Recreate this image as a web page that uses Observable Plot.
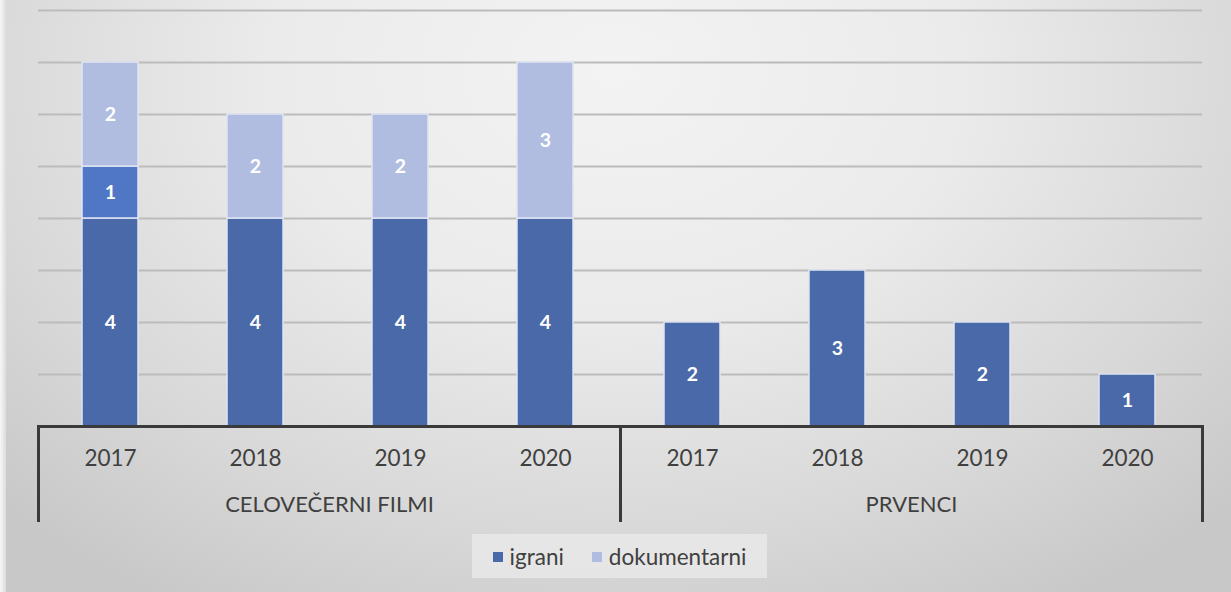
<!DOCTYPE html>
<html>
<head>
<meta charset="utf-8">
<script src="https://cdn.jsdelivr.net/npm/d3@7"></script>
<script src="https://cdn.jsdelivr.net/npm/@observablehq/plot@0.6"></script>
<style>
  html, body { margin: 0; padding: 0; }
  #wrap {
    position: relative; width: 1231px; height: 592px; overflow: hidden;
    background: radial-gradient(ellipse 70% 105% at 50% 12%, #f3f3f3 0%, #ebebeb 40%, #d8d8d8 75%, #c8c8c8 100%);
    font-family: Lato, "Open Sans", sans-serif;
  }
  #edgeL { position: absolute; left: 0; top: 0; width: 6px; height: 592px; background: linear-gradient(to right, #f7f7f7, #dcdcdc); }
  #chart { position: absolute; left: 0; top: 0; }
  #legend {
    position: absolute; left: 472px; top: 534px; width: 295px; height: 44px;
    background: rgba(235,235,235,0.75);
    display: flex; align-items: center; justify-content: center; gap: 28px;
    font-size: 22.5px; color: #404040;
  }
  #legend .item { display: flex; align-items: center; gap: 7px; }
  #legend .sw { width: 10px; height: 10px; display: inline-block; margin-top: 2px; }
</style>
</head>
<body>
<div id="wrap"><div id="edgeL"></div><div id="chart"></div><div id="legend"></div></div>
<script>
const groups = ["CELOVEČERNI FILMI", "PRVENCI"];
const years = ["2017", "2018", "2019", "2020"];
const series = ["igrani", "drugo", "dokumentarni"];
const igrani = [4, 4, 4, 4, 2, 3, 2, 1];
const drugo = [1, 0, 0, 0, 0, 0, 0, 0];
const dokumentarni = [2, 2, 2, 3, 0, 0, 0, 0];
const legendSeries = ["igrani", "dokumentarni"];
const seriesColors = ["#4a69a9", "#4f77c6", "#b0bde0"];
const yTicks = [1, 2, 3, 4, 5, 6, 7, 8];

const values = {igrani, drugo, dokumentarni};
const rows = [];
for (let i = 0; i < igrani.length; i++) {
  const group = groups[Math.floor(i / years.length)];
  const year = years[i % years.length];
  for (const s of series) {
    const v = values[s][i];
    if (v > 0) rows.push({group, year, series: s, value: v});
  }
}

const plot = Plot.plot({
  width: 1231,
  height: 530,
  marginLeft: 37,
  marginRight: 29,
  marginTop: 10,
  marginBottom: 104,
  style: {background: "transparent", color: "#404040", fontFamily: "Lato, 'Open Sans', sans-serif"},
  fx: {domain: groups, padding: 0, axis: null},
  x: {domain: years, paddingInner: 0.615, paddingOuter: 0.3075, axis: null},
  y: {domain: [0, 8], axis: null},
  color: {domain: series, range: seriesColors},
  marks: [
    Plot.gridY(yTicks, {stroke: "#bcbcbc", strokeOpacity: 1, strokeWidth: 2}),
    Plot.barY(rows, Plot.stackY({fx: "group", x: "year", y: "value", fill: "series", stroke: "#dfe5f3", strokeWidth: 1.5, dx: -2})),
    Plot.text(rows, Plot.stackY({fx: "group", x: "year", y: "value", z: "series", text: d => String(d.value), fill: "white", fontWeight: "bold", fontSize: 19.5, dx: -2})),
    Plot.ruleY([0], {stroke: "#3a3a3a", strokeWidth: 3}),
    Plot.frame({anchor: "left", stroke: "#3a3a3a", strokeWidth: 3, insetTop: 416, insetBottom: -94}),
    Plot.frame({anchor: "right", stroke: "#3a3a3a", strokeWidth: 3, insetTop: 416, insetBottom: -94}),
    Plot.axisX({anchor: "bottom", tickSize: 0, tickPadding: 24, fontSize: 22.5, label: null, dx: -2}),
    Plot.axisFx({anchor: "bottom", tickSize: 0, tickPadding: 70, fontSize: 22, label: null})
  ]
});
document.getElementById("chart").appendChild(plot);

const legend = document.getElementById("legend");
for (const s of legendSeries) {
  const item = document.createElement("div");
  item.className = "item";
  const sw = document.createElement("span");
  sw.className = "sw";
  sw.style.background = seriesColors[series.indexOf(s)];
  const t = document.createElement("span");
  t.textContent = s;
  item.appendChild(sw);
  item.appendChild(t);
  legend.appendChild(item);
}
</script>
</body>
</html>
